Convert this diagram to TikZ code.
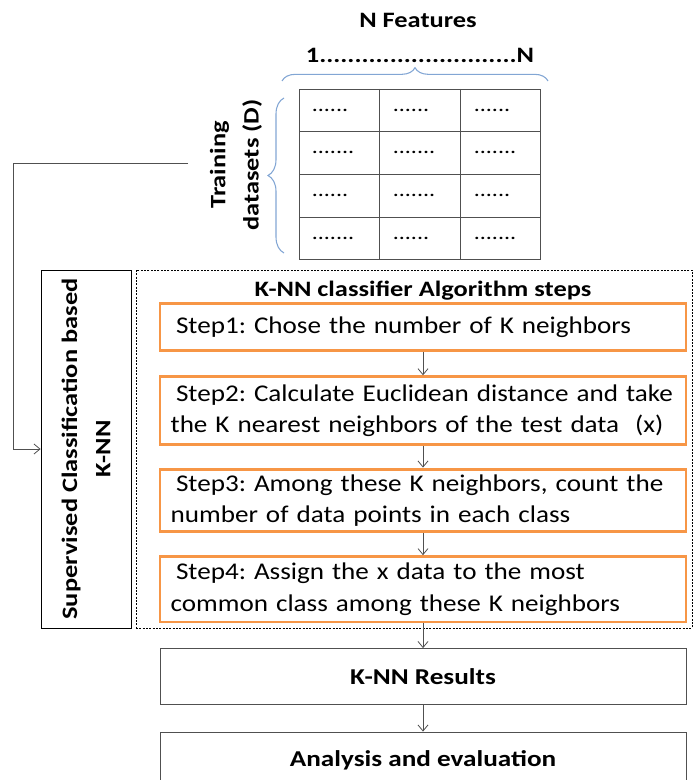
\documentclass[tikz,border=0pt]{standalone}
\usepackage{fontspec}
\setmainfont{Carlito}[FakeStretch=1.13]
\newfontfamily\headfont{Carlito}[FakeStretch=1.2]
\usepackage{tikz}
\usetikzlibrary{arrows.meta, positioning, decorations.pathreplacing}

\definecolor{steporange}{RGB}{247,150,70}
\definecolor{braceblue}{RGB}{130,166,212}
\definecolor{linegray}{RGB}{80,80,80}

\newcommand{\celldots}[1]{\ifnum#1=6 ......\else .......\fi}
\frenchspacing

\begin{document}
\begin{tikzpicture}[
        > = {Straight Barb[length = 4.5pt, width = 7.5pt]}, % arrow head style
        x = 0.75pt, y = -0.75pt, % one unit per pixel, y runs down
        semithick % line style
    ]

    \tikzstyle{stepbox}=[
        draw = steporange,
        line width = 2.2pt,
        minimum width = 394.5pt,
        text width = 386.5pt,
        inner xsep = 4pt,
        inner ysep = 1pt,
        align = left,
        font = \fontsize{18}{23.5}\selectfont
    ]
    \tikzstyle{resultbox}=[
        draw = linegray,
        minimum width = 394.5pt,
        minimum height = 42pt,
        font = \headfont\bfseries\fontsize{17}{20}\selectfont
    ]
    \tikzstyle{title}=[font = \headfont\bfseries\fontsize{16.5}{25}\selectfont]
    \tikzstyle{brace}=[draw = braceblue, thick, decorate, decoration = {brace, amplitude = 10pt}]
    \tikzstyle{cell}=[anchor = west, font = \headfont\fontsize{15}{16}\selectfont]

    \useasboundingbox (0,0) rectangle (697,780);

    % features on top
    \node[title] (feat) at (418,20) {N Features};
    \node[title] (range) at (420,55) {1............................N};
    \draw[brace] (282,81) -- (548,81);

    % training data table
    \draw[linegray] (299,89) rectangle (540,259);
    \foreach \x in {379,460} \draw[linegray] (\x,89) -- (\x,259);
    \foreach \y in {131,174,217} \draw[linegray] (299,\y) -- (540,\y);
    \foreach \r/\y/\na/\nb/\nc in {1/110/6/6/6, 2/152/7/7/7, 3/195/6/7/6, 4/238/7/6/7} {
        \node[cell] (cell\r a) at (307,\y) {\celldots{\na}};
        \node[cell] (cell\r b) at (388,\y) {\celldots{\nb}};
        \node[cell] (cell\r c) at (469,\y) {\celldots{\nc}};
    }
    \draw[brace, decoration = {amplitude = 12pt}] (284,253) -- (284,98);
    \node[title, rotate = 90, align = center] (train) at (236,165) {Training\\datasets (D)};
    \coordinate (tap) at (188,163);

    % K-NN block
    \node[draw = black, rotate = 90, minimum width = 268.5pt, minimum height = 67.5pt,
          align = center, title] (sup) at (86,449) {Supervised Classification based\\K-NN};
    \node[draw = black, dash pattern = on 1.5pt off 1pt, thin,
          minimum width = 417pt, minimum height = 268.5pt] (algbox) at (414,449) {};
    \node[title] (algtitle) at (423,291) {K-NN classifier Algorithm steps};

    \node[stepbox, minimum height = 35.25pt] (s1) at (423,327)
        {\hspace*{8pt}Step1: Chose the number of K neighbors};
    \node[stepbox, minimum height = 51pt] (s2) [below = 17.5pt of s1]
        {\hspace*{8pt}Step2: Calculate Euclidean distance and take\\\hspace*{4pt}the K nearest neighbors of the test data~ (x)};
    \node[stepbox, minimum height = 47pt] (s3) [below = 16pt of s2]
        {\hspace*{8pt}Step3: Among these K neighbors, count the\\\hspace*{4pt}number of data points in each class};
    \node[stepbox, minimum height = 49pt] (s4) [below = 16.5pt of s3]
        {\hspace*{8pt}Step4: Assign the x data to the most\\\hspace*{4pt}common class among these K neighbors};

    \node[resultbox] (res) [below = 18.5pt of s4] {K-NN Results};
    \node[resultbox] (eval) [below = 20pt of res] {Analysis and evaluation};

    \draw[->, linegray] (tap) -- (13,163) |- (sup.north);
    \draw[->, linegray] (s1) -- (s2);
    \draw[->, linegray] (s2) -- (s3);
    \draw[->, linegray] (s3) -- (s4);
    \draw[->, linegray] (s4) -- (res);
    \draw[->, linegray] (res) -- (eval);

\end{tikzpicture}
\end{document}
